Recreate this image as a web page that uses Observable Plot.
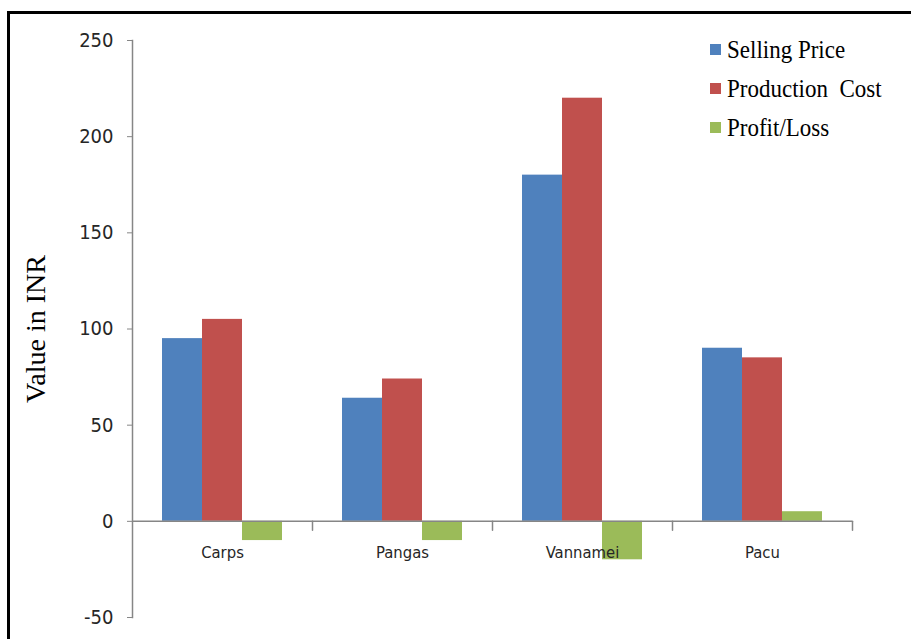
<!DOCTYPE html>
<html>
<head>
<meta charset="utf-8">
<script src="https://cdn.jsdelivr.net/npm/d3@7"></script>
<script src="https://cdn.jsdelivr.net/npm/@observablehq/plot@0.6"></script>
<style>
  html, body { margin: 0; padding: 0; background: #fff; }
  #wrap { position: relative; width: 911px; height: 639px; overflow: hidden; }
  #border { position: absolute; left: 7px; top: 11px; width: 2000px; height: 2000px;
            border-top: 3px solid #000; border-left: 3px solid #000; box-sizing: border-box; }
  #legend { position: absolute; left: 710px; top: 30px; font-family: "Liberation Serif", "Times New Roman", serif;
            font-size: 23px; color: #000; }
  #legend .row { display: flex; align-items: center; height: 39px; white-space: pre; }
  #legend .sw { width: 11px; height: 11px; margin-right: 6px; }
  #legend .tx { display: inline-block; transform: scaleY(1.12); transform-origin: 0 50%; }
</style>
</head>
<body>
<div id="wrap"><div id="chart"></div><div id="legend"></div><div id="border"></div></div>
<script>
const categories = ["Carps", "Pangas", "Vannamei", "Pacu"];
const series = ["Selling Price", "Production  Cost", "Profit/Loss"];
const sellingPrice = [95, 64, 180, 90];
const productionCost = [105, 74, 220, 85];
const profitLoss = [-10, -10, -20, 5];
const colors = ["#4F81BD", "#C0504D", "#9BBB59"];
const yTicks = [-50, 0, 50, 100, 150, 200, 250];
const yLabel = "Value in INR";

const valuesBySeries = [sellingPrice, productionCost, profitLoss];
const data = [];
categories.forEach((c, i) => series.forEach((s, j) => data.push({category: c, series: s, value: valuesBySeries[j][i]})));

const tickFont = "'Liberation Sans Narrow', 'DejaVu Sans Condensed', 'Arial Narrow', sans-serif";
const axisGray = "#868686";
const tickShape = {draw(context, l) { context.moveTo(0, 0); context.lineTo(0, -l); }};

const chart = Plot.plot({
  width: 911,
  height: 639,
  marginLeft: 132,
  marginRight: 59,
  marginTop: 40,
  marginBottom: 22,
  fx: {domain: categories, padding: 0, axis: null},
  x: {domain: series, paddingInner: 0, paddingOuter: 0.75, axis: null},
  y: {domain: [-50, 250], axis: null},
  color: {domain: series, range: colors},
  style: {background: "transparent"},
  marks: [
    Plot.barY(data, {fx: "category", x: "series", y: "value", fill: "series"}),
    Plot.ruleY([0], {stroke: axisGray, strokeWidth: 1.5}),
    Plot.frame({anchor: "left", facetAnchor: "left", stroke: axisGray, strokeWidth: 1.5}),
    Plot.vector([0], {y: d => d, frameAnchor: "right", length: 9, rotate: 180, anchor: "start",
                      shape: tickShape, stroke: axisGray, strokeWidth: 1.5}),
    Plot.axisY({anchor: "left", ticks: yTicks, tickSize: 5, tickPadding: 14, tickFormat: d => d,
                fontSize: 20, fontFamily: tickFont, color: "#262626", stroke: axisGray, label: null}),
    Plot.axisY({anchor: "left", ticks: [], tickSize: 0, label: yLabel, labelAnchor: "center", labelArrow: "none",
                labelOffset: 107, fontSize: 28, fontFamily: "'Liberation Serif', 'Times New Roman', serif", color: "#000"}),
    Plot.text(categories, {fx: d => d, y: 0, text: d => d, dy: 31, lineAnchor: "middle",
                           fontSize: 16.5, fontFamily: tickFont, fill: "#262626"})
  ]
});
document.getElementById("chart").appendChild(chart);

const legend = document.getElementById("legend");
series.forEach((s, i) => {
  const row = document.createElement("div");
  row.className = "row";
  const sw = document.createElement("span");
  sw.className = "sw";
  sw.style.background = colors[i];
  const t = document.createElement("span");
  t.className = "tx";
  t.textContent = s;
  row.appendChild(sw); row.appendChild(t);
  legend.appendChild(row);
});
</script>
</body>
</html>
